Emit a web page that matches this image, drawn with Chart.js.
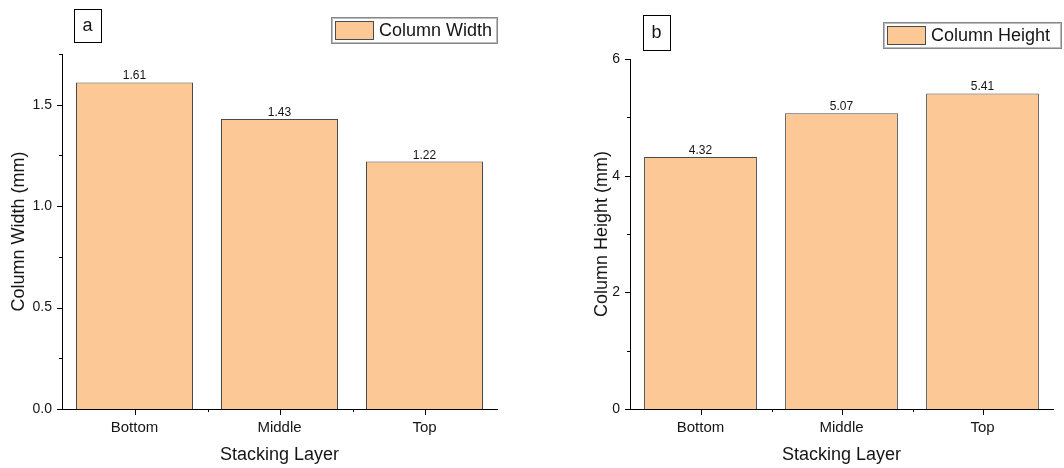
<!DOCTYPE html>
<html>
<head>
<meta charset="utf-8">
<script src="https://cdn.jsdelivr.net/npm/chart.js@4/dist/chart.umd.min.js"></script>
<style>
  html, body { margin: 0; padding: 0; background: #fff; }
  #wrap { position: relative; width: 1064px; height: 468px; }
  .panel { position: absolute; top: 0; height: 468px; }
</style>
</head>
<body>
<div id="wrap">
  <div class="panel" style="left:0;width:530px"><canvas id="chartA"></canvas></div>
  <div class="panel" style="left:530px;width:534px"><canvas id="chartB"></canvas></div>
</div>
<script>
// data
const layers = ['Bottom', 'Middle', 'Top'];
const columnWidth = [1.61, 1.43, 1.22];   // mm
const columnHeight = [4.32, 5.07, 5.41];  // mm

const fillColor = 'rgb(252,200,150)';
const edgeColor = '#4a4a4a';
const textColor = '#151515';
const fontFam = '"Liberation Sans", Arial, sans-serif';

// draws origin-style ticks, value labels, legend box and panel letter
const decorPlugin = {
  id: 'decor',
  afterDraw(chart) {
    const o = chart.options.plugins.decor;
    const ctx = chart.ctx;
    const xs = chart.scales.x, ys = chart.scales.y;
    ctx.save();
    ctx.strokeStyle = '#000';
    ctx.lineWidth = 1;

    // y ticks (major + minor)
    ys.ticks.forEach(t => {
      const py = Math.round(ys.getPixelForValue(t.value)) + 0.5;
      const major = Math.abs(t.value / o.major - Math.round(t.value / o.major)) < 1e-6;
      const len = major ? 5 : 3;
      ctx.beginPath();
      ctx.moveTo(xs.left, py);
      ctx.lineTo(xs.left - len, py);
      ctx.stroke();
    });

    // x ticks: major at centres, minor at boundaries
    const y0 = ys.bottom;
    const step = xs.getPixelForValue(1) - xs.getPixelForValue(0);
    layers.forEach((c, i) => {
      const px = Math.round(xs.getPixelForValue(i)) + 0.5;
      ctx.beginPath();
      ctx.moveTo(px, y0);
      ctx.lineTo(px, y0 + 6);
      ctx.stroke();
      if (i > 0) {
        const bx = Math.round(px - step / 2) + 0.5;
        ctx.beginPath();
        ctx.moveTo(bx, y0);
        ctx.lineTo(bx, y0 + 3);
        ctx.stroke();
      }
    });

    // value labels above bars
    ctx.fillStyle = textColor;
    ctx.font = '12px ' + fontFam;
    ctx.textAlign = 'center';
    ctx.textBaseline = 'alphabetic';
    const meta = chart.getDatasetMeta(0);
    meta.data.forEach((bar, i) => {
      ctx.fillText(chart.data.datasets[0].data[i].toFixed(2), bar.x, bar.y - 3);
    });

    // panel letter
    const p = o.panel;
    ctx.strokeStyle = '#000';
    ctx.strokeRect(p.x + 0.5, p.y + 0.5, p.w, p.h);
    ctx.font = '18px ' + fontFam;
    ctx.textBaseline = 'middle';
    ctx.fillText(p.text, p.x + p.w / 2, p.y + p.h / 2 + 1);

    // legend
    const l = o.legend;
    ctx.strokeStyle = '#888';
    ctx.strokeRect(l.x + 0.5, l.y + 0.5, l.w, l.h);
    ctx.strokeStyle = '#bbb';
    ctx.strokeRect(l.x + 1.5, l.y + 1.5, l.w - 2, l.h - 2);
    ctx.fillStyle = fillColor;
    ctx.fillRect(l.x + 4, l.y + 4, 38, l.h - 7);
    ctx.strokeStyle = edgeColor;
    ctx.strokeRect(l.x + 4.5, l.y + 4.5, 38, l.h - 8);
    ctx.fillStyle = textColor;
    ctx.font = '18px ' + fontFam;
    ctx.textAlign = 'left';
    ctx.fillText(chart.data.datasets[0].label, l.x + 48, l.y + l.h / 2 + 1);
    ctx.restore();
  }
};

function makeChart(id, label, values, yMax, minorStep, majorStep, digits, geo) {
  return new Chart(document.getElementById(id), {
    type: 'bar',
    data: {
      labels: layers,
      datasets: [{
        label: label,
        data: values,
        backgroundColor: fillColor,
        borderColor: edgeColor,
        borderWidth: 1,
        categoryPercentage: geo.catPct,
        barPercentage: 1.0
      }]
    },
    options: {
      responsive: true,
      maintainAspectRatio: false,
      animation: false,
      layout: { padding: { left: geo.padLeft, right: geo.padRight, top: geo.padTop, bottom: 0 } },
      plugins: {
        legend: { display: false },
        tooltip: { enabled: false },
        decor: { major: majorStep, panel: geo.panel, legend: geo.legend }
      },
      scales: {
        x: {
          grid: { display: false, drawTicks: false },
          border: { display: true, color: '#000', width: 1 },
          ticks: { color: textColor, font: { family: fontFam, size: 15 }, padding: 10, maxRotation: 0 },
          title: { display: true, text: 'Stacking Layer', color: textColor,
                   font: { family: fontFam, size: 18 }, padding: { top: 0, bottom: 2 } },
          afterFit(s) { s.height = 59; s.paddingLeft = 0; s.paddingRight = 0; }
        },
        y: {
          min: 0,
          max: yMax,
          grid: { display: false, drawTicks: false },
          border: { display: true, color: '#000', width: 1 },
          ticks: {
            stepSize: minorStep,
            color: textColor,
            font: { family: fontFam, size: 14 },
            padding: 10,
            callback(v) {
              const r = v / majorStep;
              return Math.abs(r - Math.round(r)) < 1e-6 ? v.toFixed(digits) : '';
            }
          },
          title: { display: true, text: geo.yTitle, color: textColor,
                   font: { family: fontFam, size: 18 }, padding: { top: 4, bottom: 0 } },
          afterFit(s) { s.width = geo.yWidth; s.paddingTop = 0; s.paddingBottom = 0; }
        }
      }
    },
    plugins: [decorPlugin]
  });
}

makeChart('chartA', 'Column Width', columnWidth, 1.75, 0.25, 0.5, 1, {
  padLeft: 4, padRight: 33, padTop: 54, yWidth: 58, catPct: 117 / 145,
  yTitle: 'Column Width (mm)',
  panel: { x: 74, y: 9, w: 27, h: 33, text: 'a' },
  legend: { x: 331, y: 17, w: 166, h: 26 }
});

makeChart('chartB', 'Column Height', columnHeight, 6, 1, 2, 0, {
  padLeft: 57, padRight: 11, padTop: 59, yWidth: 43, catPct: 0.8,
  yTitle: 'Column Height (mm)',
  panel: { x: 113, y: 15, w: 27, h: 35, text: 'b' },
  legend: { x: 353, y: 22, w: 178, h: 26 }
});
</script>
</body>
</html>
